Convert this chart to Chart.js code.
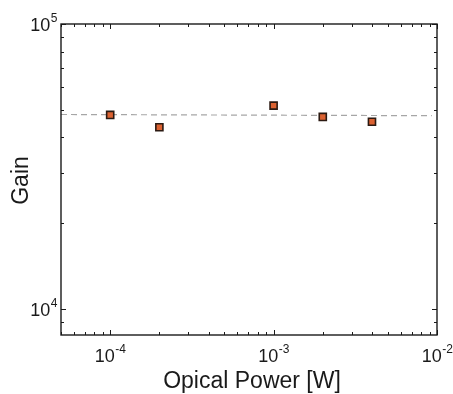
<!DOCTYPE html>
<html>
<head>
<meta charset="utf-8">
<script src="https://cdn.jsdelivr.net/npm/chart.js@4/dist/chart.umd.min.js"></script>
<style>
  html, body { margin: 0; padding: 0; background: #fff; }
  #wrap { width: 453px; height: 394px; }
</style>
</head>
<body>
<div id="wrap"><canvas id="gain-chart" width="453" height="394"></canvas></div>
<script>
// measured data: optical power [W] vs gain
const powerW = [1e-4, 2e-4, 1e-3, 2e-3, 4e-3];
const gain = [47950, 43400, 51700, 47200, 45400];

// dashed reference (fit) line
const fitPower = [5e-5, 9.3e-3];
const fitGain = [48130, 47660];

// axis ranges + labelled ticks (exponents of 10)
const xMin = 5e-5, xMax = 1e-2;
const yMin = 8100, yMax = 1e5;
const xTickExp = [-4, -3, -2];
const yTickExp = [4, 5];

const FONT = 'Liberation Sans, Arial, Helvetica, sans-serif';

// minor ticks on a log axis: 2..9 times each decade, inside the range
function minorTicks(min, max) {
  const out = [];
  for (let e = Math.floor(Math.log10(min)); e <= Math.ceil(Math.log10(max)); e++) {
    for (let m = 1; m <= 9; m++) {
      const v = m * Math.pow(10, e);
      if (v >= min * 0.9999 && v <= max * 1.0001) out.push({ v, major: m === 1 });
    }
  }
  return out;
}

// draw "10" with a superscript exponent, anchored by alignment
function drawPow(ctx, exp, x, y, align) {
  ctx.font = '18px ' + FONT;
  const base = '10';
  const bw = ctx.measureText(base).width;
  ctx.font = '12px ' + FONT;
  const sup = String(exp);
  const sw = ctx.measureText(sup).width;
  let left;
  if (align === 'right') left = x - bw - sw;
  else left = x - (bw + sw) / 2;
  ctx.textAlign = 'left';
  ctx.textBaseline = 'alphabetic';
  ctx.font = '18px ' + FONT;
  ctx.fillText(base, left, y);
  ctx.font = '12px ' + FONT;
  ctx.fillText(sup, left + bw + 0.5, y - 9);
}

const framePlugin = {
  id: 'frame',
  afterDraw(chart) {
    const ctx = chart.ctx;
    const a = chart.chartArea;
    const xs = chart.scales.x, ys = chart.scales.y;
    ctx.save();
    ctx.strokeStyle = '#1a1a1a';
    ctx.fillStyle = '#1a1a1a';

    // inward ticks on all four sides
    ctx.lineWidth = 1;
    minorTicks(xMin, xMax).forEach(t => {
      const px = Math.round(xs.getPixelForValue(t.v)) + 0.5;
      const len = t.major ? 5 : 3;
      ctx.beginPath();
      ctx.moveTo(px, a.bottom); ctx.lineTo(px, a.bottom - len);
      ctx.moveTo(px, a.top); ctx.lineTo(px, a.top + len);
      ctx.stroke();
    });
    minorTicks(yMin, yMax).forEach(t => {
      const py = Math.round(ys.getPixelForValue(t.v)) + 0.5;
      const len = t.major ? 5 : 3;
      ctx.beginPath();
      ctx.moveTo(a.left, py); ctx.lineTo(a.left + len, py);
      ctx.moveTo(a.right, py); ctx.lineTo(a.right - len, py);
      ctx.stroke();
    });

    // box
    ctx.lineWidth = 1.4;
    ctx.strokeRect(a.left, a.top, a.right - a.left, a.bottom - a.top);

    // tick labels
    xTickExp.forEach(e => {
      drawPow(ctx, e, xs.getPixelForValue(Math.pow(10, e)), a.bottom + 27, 'center');
    });
    yTickExp.forEach(e => {
      drawPow(ctx, e, a.left - 4, ys.getPixelForValue(Math.pow(10, e)) + 7, 'right');
    });

    // axis titles
    ctx.font = '23px ' + FONT;
    ctx.textAlign = 'center';
    ctx.textBaseline = 'alphabetic';
    ctx.fillText('Opical Power [W]', (a.left + a.right) / 2 + 3, 388);
    ctx.translate(28, (a.top + a.bottom) / 2 + 1);
    ctx.rotate(-Math.PI / 2);
    ctx.fillText('Gain', 0, 0);
    ctx.restore();
  }
};

const chartCanvas = document.querySelector('#gain-chart');

const gainChart = new Chart(chartCanvas, {
  type: 'scatter',
  data: {
    datasets: [
      {
        // dashed fit line
        type: 'line',
        data: fitPower.map((p, i) => ({ x: p, y: fitGain[i] })),
        borderColor: '#a6a6a6',
        borderWidth: 1.2,
        borderDash: [6, 4],
        pointRadius: 0,
        fill: false,
        order: 2,
      },
      {
        data: powerW.map((p, i) => ({ x: p, y: gain[i] })),
        pointStyle: 'rect',
        pointRadius: 5,
        pointHoverRadius: 5,
        backgroundColor: '#dc6231',
        borderColor: '#2b1a12',
        borderWidth: 1.6,
        order: 1,
      },
    ],
  },
  options: {
    responsive: false,
    animation: false,
    layout: { padding: { left: 61, right: 16, top: 24, bottom: 59 } },
    plugins: {
      legend: { display: false },
      tooltip: { enabled: false },
    },
    scales: {
      x: { type: 'logarithmic', min: xMin, max: xMax, display: false },
      y: { type: 'logarithmic', min: yMin, max: yMax, display: false },
    },
  },
  plugins: [framePlugin],
});
</script>
</body>
</html>
